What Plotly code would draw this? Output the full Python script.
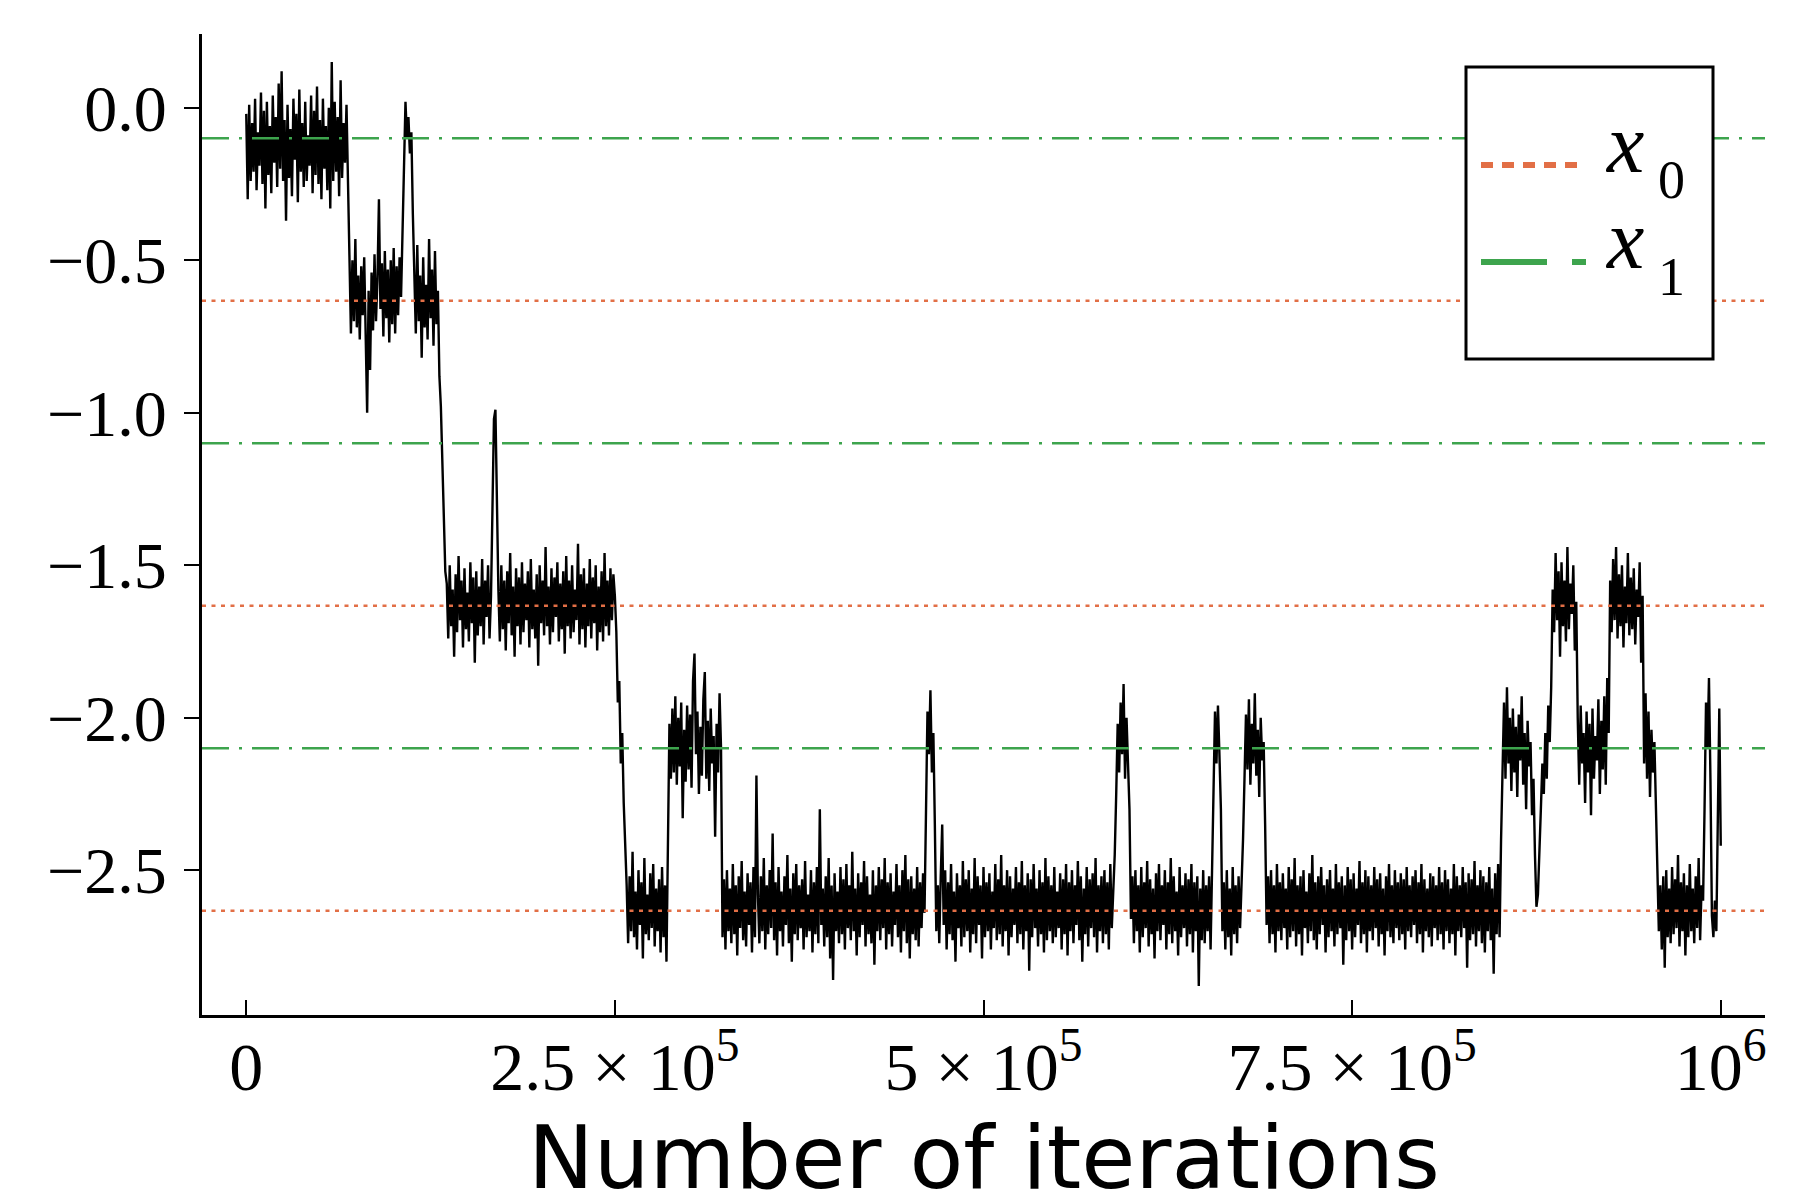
import numpy as np
import plotly.graph_objects as go

# ── data (one sample every 1000 iterations) ──
STEP = 1000

seg_a = [-0.02, -0.30, 0.01, -0.24, -0.05, -0.21, 0.03, -0.27, -0.08, -0.19,
         0.05, -0.25, -0.01, -0.33, 0.02, -0.22, -0.06, -0.28, 0.04, -0.18,
         -0.03, -0.26, 0.08, -0.20, 0.12, -0.24, -0.04, -0.37, 0.01, -0.23,
         -0.07, -0.29, 0.03, -0.17, -0.02, -0.31, 0.06, -0.21, -0.05, -0.26,
         0.02, -0.24, -0.09, -0.19, 0.04, -0.28, -0.01, -0.22, 0.07, -0.25,
         -0.04, -0.30, 0.03, -0.20, -0.06, -0.27, 0.00, -0.33, 0.15, -0.24,
         0.02, -0.21, -0.03, -0.29, 0.09, -0.23, -0.05, -0.18, 0.01, -0.26]
seg_b = [-0.58, -0.74, -0.50, -0.70, -0.43, -0.72, -0.55, -0.76, -0.52, -0.68,
         -0.49, -0.78, -1.00, -0.60, -0.86, -0.54, -0.73, -0.48, -0.70, -0.56,
         -0.30, -0.66, -0.51, -0.75, -0.47, -0.69, -0.53, -0.77, -0.50, -0.71,
         -0.46, -0.74, -0.52, -0.68, -0.49, -0.62]
seg_c = [-0.40, -0.12, 0.02, -0.10, -0.03, -0.15, -0.08, -0.35]
seg_d = [-0.52, -0.74, -0.45, -0.70, -0.55, -0.82, -0.49, -0.72, -0.58, -0.76,
         -0.43, -0.69, -0.53, -0.78, -0.47, -0.71, -0.60]
seg_e = [-0.88, -0.98, -1.18, -1.30, -1.52]
seg_f = [-1.56, -1.74, -1.50, -1.70, -1.58, -1.80, -1.53, -1.72, -1.47, -1.68,
         -1.55, -1.77, -1.51, -1.71, -1.59, -1.75, -1.49, -1.69, -1.54, -1.82,
         -1.52, -1.73, -1.57, -1.70, -1.48, -1.76, -1.55, -1.67, -1.50, -1.74,
         -1.60]
seg_g = [-1.25, -1.02, -0.99, -1.30]
seg_h = [-1.58, -1.75, -1.50, -1.71, -1.55, -1.78, -1.52, -1.69, -1.46, -1.73,
         -1.57, -1.80, -1.51, -1.70, -1.54, -1.76, -1.49, -1.72, -1.56, -1.68,
         -1.52, -1.77, -1.48, -1.71, -1.58, -1.74, -1.53, -1.83, -1.50, -1.69,
         -1.55, -1.73, -1.44, -1.70, -1.57, -1.76, -1.51, -1.72, -1.54, -1.67,
         -1.49, -1.75, -1.56, -1.71, -1.52, -1.79, -1.47, -1.70, -1.55, -1.74,
         -1.50, -1.72, -1.58, -1.68, -1.43, -1.76, -1.53, -1.71, -1.51, -1.77,
         -1.56, -1.70, -1.48, -1.74, -1.54, -1.69, -1.50, -1.78, -1.57, -1.72,
         -1.52, -1.75, -1.46, -1.70, -1.55, -1.73, -1.51, -1.68, -1.53, -1.60]
seg_i = [-1.72, -1.95, -1.88, -2.15, -2.05, -2.28, -2.40]
seg_j = [-2.55, -2.74, -2.52, -2.70, -2.44, -2.72, -2.57, -2.76, -2.50, -2.68,
         -2.54, -2.79, -2.46, -2.71, -2.58, -2.73, -2.51, -2.69, -2.48, -2.75,
         -2.56, -2.70, -2.53, -2.77, -2.49, -2.72, -2.55, -2.80]
seg_k = [-2.30, -2.02, -2.20, -1.97, -2.18, -1.93, -2.22, -2.00, -2.16, -1.95,
         -2.33, -2.04, -2.21, -1.96, -2.17, -1.99, -2.23, -1.88, -1.79, -2.12,
         -1.98, -2.25, -2.03, -2.19, -1.94, -1.85, -2.20, -2.01, -2.24, -1.97,
         -2.15, -2.06, -2.39, -2.02, -2.18, -1.92, -2.10]
seg_l = [-2.72, -2.53, -2.76, -2.50, -2.70, -2.56, -2.74, -2.48, -2.71, -2.55,
         -2.78, -2.52, -2.69, -2.47, -2.73, -2.57, -2.75, -2.51, -2.68, -2.54,
         -2.77, -2.49, -2.72, -2.19, -2.58, -2.74, -2.52, -2.70, -2.46, -2.76,
         -2.55, -2.71, -2.50, -2.69, -2.38, -2.73, -2.54, -2.78, -2.49, -2.70,
         -2.57, -2.75, -2.52, -2.68, -2.45, -2.74, -2.56, -2.80, -2.51, -2.71,
         -2.48, -2.73, -2.55, -2.69, -2.53, -2.76, -2.47, -2.72, -2.58, -2.70,
         -2.50, -2.77, -2.54, -2.71, -2.49, -2.74, -2.30, -2.68, -2.56, -2.75,
         -2.52, -2.72, -2.46, -2.79, -2.55, -2.86, -2.51, -2.70, -2.57, -2.74,
         -2.49, -2.71, -2.53, -2.76, -2.48, -2.69, -2.55, -2.73, -2.44, -2.70,
         -2.56, -2.78, -2.51, -2.72, -2.54, -2.68, -2.47, -2.75, -2.52, -2.71,
         -2.58, -2.74, -2.50, -2.81, -2.55, -2.70, -2.49, -2.73, -2.53, -2.69,
         -2.46, -2.76, -2.54, -2.71, -2.51, -2.75, -2.57, -2.68, -2.48, -2.72,
         -2.55, -2.77, -2.50, -2.70, -2.45, -2.74, -2.53, -2.79, -2.52, -2.71,
         -2.56, -2.73, -2.49, -2.75, -2.54, -2.69, -2.51, -2.64]
seg_m = [-2.25, -1.98, -2.12, -1.91, -2.18, -2.05, -2.35]
seg_n = [-2.70, -2.55, -2.74, -2.52, -2.35, -2.68, -2.50, -2.76, -2.54, -2.71,
         -2.48, -2.73, -2.57, -2.80, -2.51, -2.69, -2.55, -2.75, -2.47, -2.72,
         -2.53, -2.70, -2.50, -2.77, -2.56, -2.71, -2.46, -2.74, -2.52, -2.68,
         -2.55, -2.79, -2.49, -2.72, -2.54, -2.70, -2.51, -2.76, -2.57, -2.69,
         -2.48, -2.73, -2.53, -2.71, -2.45, -2.75, -2.55, -2.70, -2.50, -2.78,
         -2.52, -2.72, -2.56, -2.68, -2.49, -2.74, -2.54, -2.71, -2.47, -2.76,
         -2.55, -2.70, -2.51, -2.83, -2.53, -2.72, -2.48, -2.69, -2.56, -2.75,
         -2.50, -2.71, -2.54, -2.77, -2.46, -2.73, -2.52, -2.70, -2.55, -2.74,
         -2.49, -2.72, -2.57, -2.69, -2.51, -2.76, -2.53, -2.71, -2.48, -2.78,
         -2.54, -2.70, -2.50, -2.74, -2.55, -2.68, -2.47, -2.73, -2.52, -2.80,
         -2.56, -2.71, -2.49, -2.75, -2.53, -2.69, -2.51, -2.72, -2.46, -2.77,
         -2.55, -2.70, -2.52, -2.74, -2.50, -2.71, -2.54, -2.76, -2.48, -2.69,
         -2.57, -2.45]
seg_o = [-2.25, -2.02, -2.18, -1.95, -2.12, -1.89, -2.20, -2.00, -2.15, -2.30]
seg_p = [-2.66, -2.52, -2.74, -2.50, -2.70, -2.55, -2.77, -2.49, -2.72, -2.54,
         -2.69, -2.47, -2.75, -2.53, -2.71, -2.56, -2.79, -2.51, -2.70, -2.48,
         -2.73, -2.55, -2.68, -2.50, -2.76, -2.54, -2.71, -2.46, -2.74, -2.52,
         -2.70, -2.57, -2.78, -2.49, -2.72, -2.55, -2.69, -2.51, -2.75, -2.53,
         -2.71, -2.48, -2.77, -2.54, -2.70, -2.52, -2.88, -2.56, -2.73, -2.50,
         -2.74, -2.55, -2.70, -2.52, -2.76, -2.45]
seg_q = [-2.20, -1.98, -2.15, -1.96, -2.12, -2.30]
seg_r = [-2.70, -2.54, -2.76, -2.50, -2.72, -2.56, -2.78, -2.49, -2.71, -2.55,
         -2.74, -2.52, -2.69, -2.57, -2.40]
seg_s = [-2.20, -1.99, -2.17, -1.94, -2.22, -2.02, -2.15, -1.92, -2.19, -2.04,
         -2.26, -2.00, -2.14, -2.08, -2.35]
seg_t = [-2.68, -2.52, -2.74, -2.50, -2.71, -2.55, -2.77, -2.48, -2.70, -2.54,
         -2.73, -2.51, -2.69, -2.56, -2.76, -2.49, -2.72, -2.53, -2.70, -2.46,
         -2.75, -2.55, -2.71, -2.52, -2.78, -2.50, -2.69, -2.57, -2.74, -2.51,
         -2.70, -2.45, -2.73, -2.54, -2.76, -2.52, -2.71, -2.49, -2.68, -2.55,
         -2.77, -2.53, -2.72, -2.50, -2.70, -2.56, -2.75, -2.48, -2.71, -2.54,
         -2.69, -2.52, -2.81, -2.55, -2.73, -2.49, -2.70, -2.53, -2.76, -2.51,
         -2.72, -2.56, -2.68, -2.47, -2.74, -2.54, -2.71, -2.50, -2.77, -2.52,
         -2.70, -2.55, -2.73, -2.49, -2.69, -2.53, -2.75, -2.51, -2.71, -2.56,
         -2.78, -2.52, -2.70, -2.48, -2.72, -2.55, -2.74, -2.50, -2.69, -2.54,
         -2.73, -2.51, -2.71, -2.53, -2.76, -2.49, -2.70, -2.55, -2.72, -2.52,
         -2.68, -2.50, -2.74, -2.54, -2.71, -2.48, -2.77, -2.53, -2.70, -2.56,
         -2.72, -2.51, -2.75, -2.52, -2.69, -2.55, -2.73, -2.49, -2.71, -2.54,
         -2.76, -2.50, -2.70, -2.53, -2.74, -2.56, -2.71, -2.48, -2.78, -2.52,
         -2.70, -2.55, -2.72, -2.49, -2.69, -2.54, -2.82, -2.51, -2.73, -2.53,
         -2.71, -2.47, -2.75, -2.55, -2.70, -2.50, -2.74, -2.52, -2.77, -2.54,
         -2.70, -2.49, -2.73, -2.56, -2.84, -2.51, -2.71, -2.48, -2.72, -2.40]
seg_u = [-2.10, -1.95, -2.20, -1.90, -2.15, -2.00, -2.24, -1.97, -2.18, -2.03,
         -2.26, -1.99, -2.14, -1.93, -2.22, -2.05, -2.30, -2.01, -2.16, -2.08,
         -2.32, -2.20]
seg_v = [-2.45, -2.62, -2.58, -2.40]
seg_w = [-2.30, -2.15, -2.25, -2.05, -2.20, -1.96, -2.08, -1.90]
seg_x = [-1.58, -1.72, -1.46, -1.68, -1.52, -1.80, -1.49, -1.70, -1.55, -1.75,
         -1.44, -1.71, -1.56, -1.66, -1.50, -1.78, -1.62]
seg_y = [-2.00, -2.22, -1.96, -2.15, -2.05, -2.28, -1.98, -2.18, -2.02, -2.32,
         -1.97, -2.20, -2.06, -2.14, -1.94, -2.25, -2.01, -2.17, -1.93, -2.22,
         -1.87, -2.05]
seg_z = [-1.55, -1.72, -1.48, -1.68, -1.44, -1.74, -1.53, -1.70, -1.50, -1.77,
         -1.57, -1.69, -1.46, -1.73, -1.54, -1.71, -1.51, -1.76, -1.58, -1.67,
         -1.49, -1.82, -1.60]
seg_aa = [-2.15, -1.92, -2.20, -1.98, -2.26, -2.04, -2.18, -2.08, -2.30, -2.45]
seg_ab = [-2.70, -2.55, -2.76, -2.52, -2.82, -2.50, -2.72, -2.56, -2.74, -2.49,
          -2.71, -2.53, -2.69, -2.45, -2.75, -2.54, -2.70, -2.51, -2.78, -2.55,
          -2.72, -2.48, -2.70, -2.56, -2.74, -2.52, -2.69, -2.46, -2.73, -2.55,
          -2.60]
seg_ac = [-2.30, -1.95, -2.10, -1.87, -2.20]
seg_ad = [-2.65, -2.72, -2.60, -2.70]
seg_ae = [-2.30, -1.97, -2.42]

trace_vals = (seg_a + seg_b + seg_c + seg_d + seg_e + seg_f + seg_g + seg_h
              + seg_i + seg_j + seg_k + seg_l + seg_m + seg_n + seg_o + seg_p
              + seg_q + seg_r + seg_s + seg_t + seg_u + seg_v + seg_w + seg_x
              + seg_y + seg_z + seg_aa + seg_ab + seg_ac + seg_ad + seg_ae)
iterations = np.arange(len(trace_vals)) * STEP

x0_levels = [-0.633, -1.633, -2.633]
x1_levels = [-0.1, -1.1, -2.1]

x_tickvals = [0, 250000, 500000, 750000, 1000000]
x_ticktext = ["0", "2.5 × 10<sup>5</sup>", "5 × 10<sup>5</sup>",
              "7.5 × 10<sup>5</sup>", "10<sup>6</sup>"]
y_tickvals = [0.0, -0.5, -1.0, -1.5, -2.0, -2.5]

# ── styling ──────────────────────────────────────────────────────
ORANGE = "#e26f46"
GREEN = "#3da44d"
SERIF = "Liberation Serif"
W, H = 1800, 1200
ML, MR, MT, MB = 202, 35, 34, 185


def px(x, y):
    # pixel position -> paper coords (used for the hand-drawn legend)
    return (x - ML) / (W - ML - MR), (H - MB - y) / (H - MT - MB)


fig = go.Figure()
fig.add_trace(go.Scatter(
    x=iterations, y=trace_vals, mode="lines",
    line=dict(color="black", width=2.4),
    showlegend=False,
))

for v in x0_levels:
    fig.add_hline(y=v, line=dict(color=ORANGE, width=2.5, dash="4px,5.5px"))
for v in x1_levels:
    fig.add_hline(y=v, line=dict(color=GREEN, width=2.5, dash="27px,10px,3px,10px"))

# legend box, drawn by hand so the line samples can be long
bx0, by0 = px(1466, 359)
bx1, by1 = px(1713, 67)
fig.add_shape(type="rect", xref="paper", yref="paper", x0=bx0, y0=by0, x1=bx1, y1=by1,
              line=dict(color="black", width=3), fillcolor="white", layer="above")
lx0, ly0 = px(1481, 165)
lx1, _ = px(1582, 165)
fig.add_shape(type="line", xref="paper", yref="paper", x0=lx0, y0=ly0, x1=lx1, y1=ly0,
              line=dict(color=ORANGE, width=6, dash="12px,9px"))
gx0, gy0 = px(1481, 262)
gx1, _ = px(1586, 262)
fig.add_shape(type="line", xref="paper", yref="paper", x0=gx0, y0=gy0, x1=gx1, y1=gy0,
              line=dict(color=GREEN, width=6, dash="66px,25px,14px,40px"))

for sub, base_x, base_s in [("0", 172, 198), ("1", 268, 295)]:
    ax, ay = px(1603, base_x - 0.3375 * 84)
    fig.add_annotation(x=ax, y=ay, xref="paper", yref="paper", text="<i>x</i>",
                       showarrow=False, xanchor="left", yanchor="middle",
                       font=dict(family=SERIF, size=84, color="black"))
    sx, sy = px(1656, base_s - 0.3375 * 54)
    fig.add_annotation(x=sx, y=sy, xref="paper", yref="paper", text=sub,
                       showarrow=False, xanchor="left", yanchor="middle",
                       font=dict(family=SERIF, size=54, color="black"))

# axis title as an annotation for exact placement
tx, ty = px((ML + W - MR) / 2, 1157)
fig.add_annotation(x=tx, y=ty, xref="paper", yref="paper", text="Number of iterations",
                   showarrow=False, xanchor="center", yanchor="middle",
                   font=dict(family="DejaVu Sans", size=88, color="black"))

fig.update_layout(
    width=W, height=H,
    paper_bgcolor="white", plot_bgcolor="white",
    margin=dict(l=ML, r=MR, t=MT, b=MB),
    showlegend=False,
    xaxis=dict(
        range=[-30000, 1030000], showgrid=False, zeroline=False, automargin=False,
        showline=True, linecolor="black", linewidth=3,
        ticks="inside", ticklen=15, tickwidth=2, tickcolor="black",
        tickvals=x_tickvals, ticktext=x_ticktext, ticklabelstandoff=-10,
        tickfont=dict(family=SERIF, size=68, color="black"),
    ),
    yaxis=dict(
        range=[-2.975, 0.242], showgrid=False, zeroline=False, automargin=False,
        showline=True, linecolor="black", linewidth=3,
        ticks="outside", ticklen=15, tickwidth=2, tickcolor="black",
        tickvals=y_tickvals, tickformat=".1f", ticklabelstandoff=4,
        tickfont=dict(family=SERIF, size=66, color="black"),
    ),
)

# the page body has an 8px default margin; drop it so the figure sits at 0,0
fig.write_html("out.html", config={"displayModeBar": False},
               post_script="document.body.style.margin='0';")
